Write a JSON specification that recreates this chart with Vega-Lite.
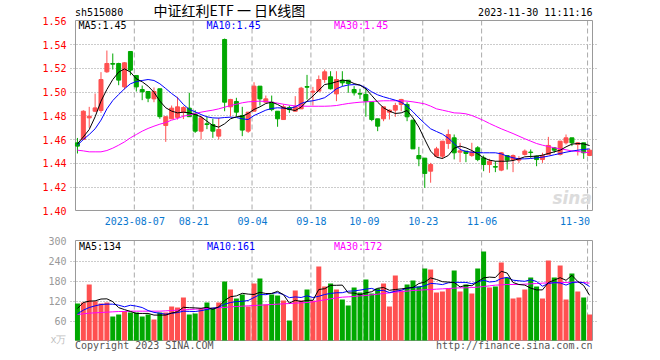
{
"$schema": "https://vega.github.io/schema/vega-lite/v6.json",
"width": 528,
"height": 321,
"autosize": {"type": "none"},
"padding": {"left": 70, "top": 20, "right": 62, "bottom": 19},
"background": "#ffffff",
"config": {"view": {"stroke": null}, "text": {"font": "DejaVu Sans Mono", "fontSize": 10}},
"datasets": {"k": [
{"i":0,"d":"2023-07-24","o":1.4570,"h":1.4611,"l":1.4480,"c":1.4542,"v":111,"m5":1.4561,"m10":1.4550,"m30":1.4508,"vm5":96,"vm10":80,"vm30":78},
{"i":1,"d":"2023-07-25","o":1.4598,"h":1.4844,"l":1.4593,"c":1.4836,"v":114,"m5":1.4620,"m10":1.4598,"m30":1.4502,"vm5":114,"vm10":91,"vm30":80},
{"i":2,"d":"2023-07-26","o":1.4780,"h":1.4873,"l":1.4696,"c":1.4794,"v":168,"m5":1.4682,"m10":1.4640,"m30":1.4494,"vm5":118,"vm10":99,"vm30":82},
{"i":3,"d":"2023-07-27","o":1.4836,"h":1.4985,"l":1.4828,"c":1.4864,"v":118,"m5":1.4789,"m10":1.4688,"m30":1.4494,"vm5":119,"vm10":104,"vm30":83},
{"i":4,"d":"2023-07-28","o":1.4842,"h":1.5165,"l":1.4822,"c":1.5103,"v":111,"m5":1.4921,"m10":1.4761,"m30":1.4494,"vm5":124.4,"vm10":108,"vm30":84},
{"i":5,"d":"2023-07-31","o":1.5168,"h":1.5347,"l":1.5159,"c":1.5238,"v":114,"m5":1.5019,"m10":1.4856,"m30":1.4505,"vm5":125,"vm10":109,"vm30":85},
{"i":6,"d":"2023-08-01","o":1.5238,"h":1.5322,"l":1.5187,"c":1.5232,"v":72,"m5":1.5103,"m10":1.4926,"m30":1.4525,"vm5":116.6,"vm10":109,"vm30":86},
{"i":7,"d":"2023-08-02","o":1.5238,"h":1.5244,"l":1.5055,"c":1.5098,"v":78,"m5":1.5165,"m10":1.4977,"m30":1.4550,"vm5":98.6,"vm10":106,"vm30":87},
{"i":8,"d":"2023-08-03","o":1.5041,"h":1.5249,"l":1.5019,"c":1.5244,"v":88,"m5":1.5193,"m10":1.5025,"m30":1.4578,"vm5":92.6,"vm10":101,"vm30":87},
{"i":9,"d":"2023-08-04","o":1.5339,"h":1.5340,"l":1.5139,"c":1.5182,"v":84,"m5":1.5165,"m10":1.5067,"m30":1.4612,"vm5":87.2,"vm10":105.8,"vm30":88},
{"i":10,"d":"2023-08-07","o":1.5137,"h":1.5137,"l":1.5002,"c":1.5041,"v":84,"m5":1.5109,"m10":1.5086,"m30":1.4640,"vm5":81.2,"vm10":103.1,"vm30":88},
{"i":11,"d":"2023-08-08","o":1.5019,"h":1.5052,"l":1.4929,"c":1.4999,"v":72,"m5":1.5084,"m10":1.5095,"m30":1.4668,"vm5":81.2,"vm10":98.9,"vm30":88},
{"i":12,"d":"2023-08-09","o":1.5002,"h":1.5002,"l":1.4912,"c":1.4946,"v":78,"m5":1.5047,"m10":1.5103,"m30":1.4691,"vm5":81.2,"vm10":89.9,"vm30":88},
{"i":13,"d":"2023-08-10","o":1.4940,"h":1.5036,"l":1.4912,"c":1.5002,"v":63,"m5":1.4996,"m10":1.5095,"m30":1.4710,"vm5":76.2,"vm10":84.4,"vm30":88},
{"i":14,"d":"2023-08-11","o":1.5025,"h":1.5025,"l":1.4772,"c":1.4790,"v":84,"m5":1.4921,"m10":1.5067,"m30":1.4727,"vm5":76.2,"vm10":81.7,"vm30":88},
{"i":15,"d":"2023-08-14","o":1.4716,"h":1.4790,"l":1.4578,"c":1.4790,"v":84,"m5":1.4865,"m10":1.5027,"m30":1.4741,"vm5":76.2,"vm10":78.7,"vm30":89},
{"i":16,"d":"2023-08-15","o":1.4772,"h":1.4884,"l":1.4772,"c":1.4862,"v":102,"m5":1.4837,"m10":1.4985,"m30":1.4761,"vm5":82.2,"vm10":81.7,"vm30":90},
{"i":17,"d":"2023-08-16","o":1.4784,"h":1.4957,"l":1.4766,"c":1.4873,"v":99,"m5":1.4822,"m10":1.4949,"m30":1.4775,"vm5":86.4,"vm10":83.8,"vm30":91},
{"i":18,"d":"2023-08-17","o":1.4828,"h":1.4878,"l":1.4770,"c":1.4867,"v":129,"m5":1.4828,"m10":1.4893,"m30":1.4794,"vm5":99.6,"vm10":87.9,"vm30":92},
{"i":19,"d":"2023-08-18","o":1.4862,"h":1.4991,"l":1.4790,"c":1.4790,"v":78,"m5":1.4822,"m10":1.4851,"m30":1.4803,"vm5":98.4,"vm10":87.3,"vm30":93},
{"i":20,"d":"2023-08-21","o":1.4811,"h":1.4845,"l":1.4654,"c":1.4668,"v":81,"m5":1.4808,"m10":1.4831,"m30":1.4817,"vm5":97.8,"vm10":87,"vm30":94},
{"i":21,"d":"2023-08-22","o":1.4668,"h":1.4797,"l":1.4598,"c":1.4780,"v":96,"m5":1.4789,"m10":1.4808,"m30":1.4828,"vm5":96.6,"vm10":89.4,"vm30":95},
{"i":22,"d":"2023-08-23","o":1.4730,"h":1.4790,"l":1.4685,"c":1.4724,"v":114,"m5":1.4752,"m10":1.4789,"m30":1.4837,"vm5":99.6,"vm10":93,"vm30":96},
{"i":23,"d":"2023-08-24","o":1.4724,"h":1.4772,"l":1.4612,"c":1.4668,"v":99,"m5":1.4716,"m10":1.4780,"m30":1.4845,"vm5":93.6,"vm10":96.6,"vm30":97},
{"i":24,"d":"2023-08-25","o":1.4626,"h":1.4780,"l":1.4598,"c":1.4682,"v":114,"m5":1.4702,"m10":1.4778,"m30":1.4856,"vm5":100.8,"vm10":99.6,"vm30":98},
{"i":25,"d":"2023-08-28","o":1.5440,"h":1.5448,"l":1.4836,"c":1.4912,"v":177,"m5":1.4730,"m10":1.4783,"m30":1.4870,"vm5":120,"vm10":108.9,"vm30":99},
{"i":26,"d":"2023-08-29","o":1.4873,"h":1.4940,"l":1.4790,"c":1.4935,"v":153,"m5":1.4772,"m10":1.4786,"m30":1.4884,"vm5":131.4,"vm10":114,"vm30":101},
{"i":27,"d":"2023-08-30","o":1.4918,"h":1.4949,"l":1.4790,"c":1.4828,"v":126,"m5":1.4789,"m10":1.4783,"m30":1.4895,"vm5":133.8,"vm10":116.7,"vm30":102},
{"i":28,"d":"2023-08-31","o":1.4800,"h":1.4873,"l":1.4626,"c":1.4677,"v":138,"m5":1.4794,"m10":1.4772,"m30":1.4907,"vm5":141.6,"vm10":117.6,"vm30":103},
{"i":29,"d":"2023-09-01","o":1.4668,"h":1.4828,"l":1.4654,"c":1.4828,"v":102,"m5":1.4817,"m10":1.4766,"m30":1.4915,"vm5":139.2,"vm10":120,"vm30":104},
{"i":30,"d":"2023-09-04","o":1.4836,"h":1.5080,"l":1.4836,"c":1.5047,"v":171,"m5":1.4851,"m10":1.4800,"m30":1.4918,"vm5":138,"vm10":129,"vm30":105},
{"i":31,"d":"2023-09-05","o":1.5047,"h":1.5047,"l":1.4884,"c":1.4940,"v":186,"m5":1.4873,"m10":1.4822,"m30":1.4921,"vm5":144.6,"vm10":138,"vm30":106},
{"i":32,"d":"2023-09-06","o":1.4912,"h":1.4968,"l":1.4912,"c":1.4940,"v":108,"m5":1.4901,"m10":1.4845,"m30":1.4918,"vm5":141,"vm10":137.4,"vm30":107},
{"i":33,"d":"2023-09-07","o":1.4912,"h":1.4968,"l":1.4836,"c":1.4850,"v":138,"m5":1.4912,"m10":1.4859,"m30":1.4912,"vm5":141,"vm10":141.3,"vm30":108},
{"i":34,"d":"2023-09-08","o":1.4836,"h":1.4836,"l":1.4705,"c":1.4772,"v":135,"m5":1.4893,"m10":1.4865,"m30":1.4904,"vm5":147.6,"vm10":143.4,"vm30":109},
{"i":35,"d":"2023-09-11","o":1.4766,"h":1.4893,"l":1.4766,"c":1.4873,"v":120,"m5":1.4865,"m10":1.4862,"m30":1.4895,"vm5":137.4,"vm10":137.7,"vm30":110},
{"i":36,"d":"2023-09-12","o":1.4867,"h":1.4884,"l":1.4822,"c":1.4850,"v":60,"m5":1.4851,"m10":1.4859,"m30":1.4887,"vm5":112.2,"vm10":128.4,"vm30":111},
{"i":37,"d":"2023-09-13","o":1.4836,"h":1.4963,"l":1.4836,"c":1.4873,"v":150,"m5":1.4842,"m10":1.4873,"m30":1.4881,"vm5":120.6,"vm10":130.8,"vm30":112},
{"i":38,"d":"2023-09-14","o":1.4856,"h":1.5041,"l":1.4856,"c":1.5030,"v":120,"m5":1.4870,"m10":1.4901,"m30":1.4879,"vm5":117,"vm10":129,"vm30":113},
{"i":39,"d":"2023-09-15","o":1.5044,"h":1.5142,"l":1.4935,"c":1.5038,"v":153,"m5":1.4921,"m10":1.4918,"m30":1.4878,"vm5":120.6,"vm10":134.1,"vm30":114},
{"i":40,"d":"2023-09-18","o":1.4996,"h":1.5041,"l":1.4884,"c":1.5005,"v":120,"m5":1.4963,"m10":1.4924,"m30":1.4878,"vm5":120.6,"vm10":129,"vm30":116},
{"i":41,"d":"2023-09-19","o":1.5005,"h":1.5137,"l":1.5005,"c":1.5103,"v":222,"m5":1.5013,"m10":1.4935,"m30":1.4878,"vm5":153,"vm10":132.6,"vm30":119},
{"i":42,"d":"2023-09-20","o":1.5103,"h":1.5187,"l":1.5075,"c":1.5168,"v":162,"m5":1.5061,"m10":1.4950,"m30":1.4878,"vm5":155.4,"vm10":138,"vm30":122},
{"i":43,"d":"2023-09-21","o":1.5126,"h":1.5173,"l":1.5019,"c":1.5025,"v":171,"m5":1.5069,"m10":1.4985,"m30":1.4880,"vm5":165.6,"vm10":141.3,"vm30":125},
{"i":44,"d":"2023-09-22","o":1.4982,"h":1.5173,"l":1.4921,"c":1.5103,"v":153,"m5":1.5084,"m10":1.5025,"m30":1.4884,"vm5":165.6,"vm10":143.1,"vm30":128},
{"i":45,"d":"2023-09-25","o":1.5097,"h":1.5173,"l":1.5047,"c":1.5075,"v":123,"m5":1.5098,"m10":1.5045,"m30":1.4893,"vm5":166.2,"vm10":143.4,"vm30":130},
{"i":46,"d":"2023-09-26","o":1.5097,"h":1.5097,"l":1.4991,"c":1.5069,"v":105,"m5":1.5092,"m10":1.5057,"m30":1.4901,"vm5":142.8,"vm10":147.9,"vm30":131},
{"i":47,"d":"2023-09-27","o":1.5019,"h":1.5047,"l":1.4968,"c":1.4991,"v":159,"m5":1.5069,"m10":1.5060,"m30":1.4907,"vm5":142.2,"vm10":148.8,"vm30":132},
{"i":48,"d":"2023-09-28","o":1.4985,"h":1.5025,"l":1.4940,"c":1.4980,"v":144,"m5":1.5055,"m10":1.5057,"m30":1.4912,"vm5":136.8,"vm10":151.2,"vm30":134},
{"i":49,"d":"2023-10-09","o":1.4977,"h":1.5033,"l":1.4790,"c":1.4921,"v":183,"m5":1.5025,"m10":1.5033,"m30":1.4915,"vm5":142.8,"vm10":154.2,"vm30":135},
{"i":50,"d":"2023-10-10","o":1.4912,"h":1.4912,"l":1.4752,"c":1.4766,"v":141,"m5":1.4968,"m10":1.4999,"m30":1.4918,"vm5":146.4,"vm10":156.3,"vm30":137},
{"i":51,"d":"2023-10-11","o":1.4772,"h":1.4772,"l":1.4668,"c":1.4710,"v":156,"m5":1.4912,"m10":1.4974,"m30":1.4921,"vm5":156.6,"vm10":149.7,"vm30":139},
{"i":52,"d":"2023-10-12","o":1.4772,"h":1.4873,"l":1.4752,"c":1.4873,"v":171,"m5":1.4865,"m10":1.4957,"m30":1.4924,"vm5":159,"vm10":150.6,"vm30":141},
{"i":53,"d":"2023-10-13","o":1.4828,"h":1.4851,"l":1.4766,"c":1.4845,"v":102,"m5":1.4837,"m10":1.4943,"m30":1.4924,"vm5":150.6,"vm10":143.7,"vm30":143},
{"i":54,"d":"2023-10-16","o":1.4845,"h":1.4907,"l":1.4789,"c":1.4884,"v":195,"m5":1.4817,"m10":1.4929,"m30":1.4924,"vm5":153,"vm10":147.9,"vm30":145},
{"i":55,"d":"2023-10-17","o":1.4893,"h":1.4940,"l":1.4836,"c":1.4935,"v":150,"m5":1.4822,"m10":1.4912,"m30":1.4924,"vm5":154.8,"vm10":150.6,"vm30":147},
{"i":56,"d":"2023-10-18","o":1.4893,"h":1.4912,"l":1.4752,"c":1.4789,"v":168,"m5":1.4842,"m10":1.4879,"m30":1.4921,"vm5":157.2,"vm10":156.9,"vm30":148},
{"i":57,"d":"2023-10-19","o":1.4761,"h":1.4761,"l":1.4519,"c":1.4519,"v":180,"m5":1.4780,"m10":1.4831,"m30":1.4915,"vm5":159,"vm10":159,"vm30":150},
{"i":58,"d":"2023-10-20","o":1.4463,"h":1.4536,"l":1.4373,"c":1.4435,"v":162,"m5":1.4702,"m10":1.4780,"m30":1.4907,"vm5":171,"vm10":160.8,"vm30":151},
{"i":59,"d":"2023-10-23","o":1.4441,"h":1.4441,"l":1.4191,"c":1.4312,"v":216,"m5":1.4598,"m10":1.4733,"m30":1.4898,"vm5":175.2,"vm10":164.1,"vm30":152},
{"i":60,"d":"2023-10-24","o":1.4331,"h":1.4401,"l":1.4234,"c":1.4387,"v":213,"m5":1.4500,"m10":1.4688,"m30":1.4879,"vm5":187.8,"vm10":171.3,"vm30":153},
{"i":61,"d":"2023-10-25","o":1.4457,"h":1.4536,"l":1.4452,"c":1.4519,"v":144,"m5":1.4449,"m10":1.4665,"m30":1.4856,"vm5":183,"vm10":170.1,"vm30":154},
{"i":62,"d":"2023-10-26","o":1.4457,"h":1.4584,"l":1.4435,"c":1.4584,"v":147,"m5":1.4438,"m10":1.4643,"m30":1.4845,"vm5":176.4,"vm10":167.7,"vm30":155},
{"i":63,"d":"2023-10-27","o":1.4564,"h":1.4682,"l":1.4519,"c":1.4640,"v":156,"m5":1.4463,"m10":1.4609,"m30":1.4834,"vm5":175.2,"vm10":173.1,"vm30":156},
{"i":64,"d":"2023-10-30","o":1.4612,"h":1.4640,"l":1.4430,"c":1.4486,"v":210,"m5":1.4525,"m10":1.4564,"m30":1.4822,"vm5":174,"vm10":174.6,"vm30":157},
{"i":65,"d":"2023-10-31","o":1.4491,"h":1.4570,"l":1.4407,"c":1.4502,"v":147,"m5":1.4542,"m10":1.4514,"m30":1.4820,"vm5":160.8,"vm10":174.3,"vm30":158},
{"i":66,"d":"2023-11-01","o":1.4500,"h":1.4500,"l":1.4407,"c":1.4480,"v":168,"m5":1.4528,"m10":1.4497,"m30":1.4814,"vm5":165.6,"vm10":174.3,"vm30":158},
{"i":67,"d":"2023-11-02","o":1.4463,"h":1.4570,"l":1.4452,"c":1.4491,"v":141,"m5":1.4505,"m10":1.4491,"m30":1.4800,"vm5":164.4,"vm10":170.4,"vm30":159},
{"i":68,"d":"2023-11-03","o":1.4528,"h":1.4542,"l":1.4415,"c":1.4429,"v":216,"m5":1.4477,"m10":1.4488,"m30":1.4780,"vm5":176.4,"vm10":175.8,"vm30":160},
{"i":69,"d":"2023-11-06","o":1.4443,"h":1.4463,"l":1.4331,"c":1.4387,"v":267,"m5":1.4444,"m10":1.4486,"m30":1.4758,"vm5":187.8,"vm10":180.9,"vm30":162},
{"i":70,"d":"2023-11-07","o":1.4387,"h":1.4435,"l":1.4317,"c":1.4415,"v":159,"m5":1.4424,"m10":1.4486,"m30":1.4733,"vm5":190.2,"vm10":175.5,"vm30":164},
{"i":71,"d":"2023-11-08","o":1.4370,"h":1.4415,"l":1.4323,"c":1.4365,"v":162,"m5":1.4415,"m10":1.4486,"m30":1.4710,"vm5":189,"vm10":177.3,"vm30":166},
{"i":72,"d":"2023-11-09","o":1.4340,"h":1.4491,"l":1.4331,"c":1.4486,"v":234,"m5":1.4415,"m10":1.4477,"m30":1.4688,"vm5":207.6,"vm10":186,"vm30":167},
{"i":73,"d":"2023-11-10","o":1.4463,"h":1.4463,"l":1.4345,"c":1.4424,"v":189,"m5":1.4415,"m10":1.4458,"m30":1.4668,"vm5":202.2,"vm10":189.3,"vm30":168},
{"i":74,"d":"2023-11-13","o":1.4429,"h":1.4472,"l":1.4323,"c":1.4463,"v":126,"m5":1.4421,"m10":1.4444,"m30":1.4648,"vm5":174,"vm10":180.9,"vm30":168},
{"i":75,"d":"2023-11-14","o":1.4424,"h":1.4458,"l":1.4401,"c":1.4435,"v":129,"m5":1.4435,"m10":1.4435,"m30":1.4626,"vm5":168,"vm10":179.1,"vm30":168},
{"i":76,"d":"2023-11-15","o":1.4472,"h":1.4514,"l":1.4463,"c":1.4500,"v":153,"m5":1.4452,"m10":1.4435,"m30":1.4604,"vm5":166.2,"vm10":177.6,"vm30":169},
{"i":77,"d":"2023-11-16","o":1.4492,"h":1.4514,"l":1.4443,"c":1.4488,"v":189,"m5":1.4455,"m10":1.4438,"m30":1.4584,"vm5":157.2,"vm10":182.4,"vm30":170},
{"i":78,"d":"2023-11-17","o":1.4458,"h":1.4463,"l":1.4373,"c":1.4429,"v":162,"m5":1.4458,"m10":1.4444,"m30":1.4564,"vm5":151.8,"vm10":177,"vm30":171},
{"i":79,"d":"2023-11-20","o":1.4429,"h":1.4486,"l":1.4401,"c":1.4463,"v":126,"m5":1.4466,"m10":1.4449,"m30":1.4550,"vm5":151.8,"vm10":162.9,"vm30":172},
{"i":80,"d":"2023-11-21","o":1.4472,"h":1.4620,"l":1.4472,"c":1.4548,"v":240,"m5":1.4480,"m10":1.4458,"m30":1.4539,"vm5":174,"vm10":171,"vm30":173},
{"i":81,"d":"2023-11-22","o":1.4528,"h":1.4534,"l":1.4486,"c":1.4508,"v":189,"m5":1.4494,"m10":1.4469,"m30":1.4528,"vm5":181.2,"vm10":173.7,"vm30":173},
{"i":82,"d":"2023-11-23","o":1.4472,"h":1.4584,"l":1.4463,"c":1.4584,"v":225,"m5":1.4508,"m10":1.4480,"m30":1.4519,"vm5":188.4,"vm10":172.8,"vm30":174},
{"i":83,"d":"2023-11-24","o":1.4570,"h":1.4640,"l":1.4556,"c":1.4612,"v":123,"m5":1.4536,"m10":1.4491,"m30":1.4511,"vm5":180.6,"vm10":166.2,"vm30":174},
{"i":84,"d":"2023-11-27","o":1.4612,"h":1.4612,"l":1.4542,"c":1.4570,"v":201,"m5":1.4559,"m10":1.4500,"m30":1.4502,"vm5":195.6,"vm10":173.7,"vm30":175},
{"i":85,"d":"2023-11-28","o":1.4556,"h":1.4575,"l":1.4463,"c":1.4570,"v":147,"m5":1.4564,"m10":1.4508,"m30":1.4497,"vm5":177,"vm10":175.5,"vm30":175},
{"i":86,"d":"2023-11-29","o":1.4570,"h":1.4570,"l":1.4435,"c":1.4486,"v":129,"m5":1.4561,"m10":1.4514,"m30":1.4491,"vm5":165,"vm10":173.1,"vm30":174},
{"i":87,"d":"2023-11-30","o":1.4463,"h":1.4519,"l":1.4458,"c":1.4508,"v":78,"m5":1.4547,"m10":1.4519,"m30":1.4486,"vm5":135.6,"vm10":162,"vm30":172}
]},
"data": {"name": "k"},
"encoding": {
  "x": {"field": "i", "type": "quantitative", "title": null,
    "scale": {"domain": [-0.4166667, 87.5833333], "nice": false, "zero": false},
    "axis": {"orient": "bottom", "offset": -130.5, "values": [10, 20, 30, 40, 49, 59, 69, 87],
      "labelExpr": "datum.value == 10 ? '2023-08-07' : datum.value == 20 ? '08-21' : datum.value == 30 ? '09-04' : datum.value == 40 ? '09-18' : datum.value == 49 ? '10-09' : datum.value == 59 ? '10-23' : datum.value == 69 ? '11-06' : '11-30'",
      "grid": false, "domain": false, "ticks": false, "tickSize": 0, "labelPadding": 6,
      "labelOffset": {"condition": {"test": "datum.value == 87", "value": 0}, "value": -2},
      "labelAlign": {"condition": {"test": "datum.value == 87", "value": "right"}, "value": "center"},
      "labelColor": "#0a78d0", "labelFont": "DejaVu Sans Mono", "labelFontSize": 10,
      "labelFlush": false, "labelOverlap": false, "title": null}
  }
},
"layer": [
  {
    "layer": [
      {"transform": [{"filter": {"field": "d", "oneOf": ["2023-08-07","2023-08-21","2023-09-04","2023-09-18","2023-10-09","2023-10-23","2023-11-06","2023-11-30"]}}],
       "mark": {"type": "rule", "xOffset": -2, "stroke": "#aaaaaa", "strokeWidth": 1, "strokeDash": [5, 3]},
       "encoding": {"y": {"datum": 1.56, "type": "quantitative", "title": null, "scale": {"domain": [1.290105, 1.560421], "nice": false, "zero": false}}, "y2": {"datum": 1.40}}},
      {"transform": [{"filter": "datum.i == 0"}],
       "mark": {"type": "rect", "filled": false, "stroke": "#999999", "strokeWidth": 1},
       "encoding": {"x": {"datum": -0.3333333, "type": "quantitative"}, "x2": {"datum": 87.5},
         "y": {"datum": 1.56, "type": "quantitative", "title": null}, "y2": {"datum": 1.40}}},
      {"mark": {"type": "rule", "strokeWidth": 1},
       "encoding": {
         "y": {"field": "l", "type": "quantitative", "title": null,
           "scale": {"domain": [1.290105, 1.560421], "nice": false, "zero": false},
           "axis": {"orient": "left", "values": [1.4, 1.42, 1.44, 1.46, 1.48, 1.5, 1.52, 1.54, 1.56], "format": ".2f", "title": null,
             "domain": false, "ticks": false, "tickSize": 0, "labelPadding": 4, "labelOffset": 1,
             "labelColor": "#ff0000", "labelFont": "DejaVu Sans Mono", "labelFontSize": 10, "labelFlush": false, "labelOverlap": false,
             "grid": true, "gridColor": "#999999", "gridDash": [1, 2],
             "gridOpacity": {"condition": {"test": "datum.value > 1.555 || datum.value < 1.405", "value": 0}, "value": 1}}},
         "y2": {"field": "h"},
         "color": {"condition": {"test": "datum.c >= datum.o", "value": "#ff5050"}, "value": "#00a800"}}},
      {"mark": {"type": "bar", "width": 4, "strokeWidth": 1, "orient": "vertical"},
       "encoding": {
         "y": {"field": "o", "type": "quantitative", "title": null, "scale": {"domain": [1.290105, 1.560421], "nice": false, "zero": false}},
         "y2": {"field": "c"},
         "fill": {"condition": {"test": "datum.c >= datum.o", "value": "#ff5050"}, "value": "#00a800"},
         "stroke": {"condition": {"test": "datum.c >= datum.o", "value": "#ff5050"}, "value": "#00a800"}}},
      {"mark": {"type": "line", "stroke": "#ff00ff", "strokeWidth": 1},
       "encoding": {"y": {"field": "m30", "type": "quantitative", "title": null, "scale": {"domain": [1.290105, 1.560421], "nice": false, "zero": false}}}},
      {"mark": {"type": "line", "stroke": "#0000ff", "strokeWidth": 1},
       "encoding": {"y": {"field": "m10", "type": "quantitative", "title": null, "scale": {"domain": [1.290105, 1.560421], "nice": false, "zero": false}}}},
      {"mark": {"type": "line", "stroke": "#000000", "strokeWidth": 1},
       "encoding": {"y": {"field": "m5", "type": "quantitative", "title": null, "scale": {"domain": [1.290105, 1.560421], "nice": false, "zero": false}}}},
      {"transform": [{"filter": "datum.i == 0"}],
       "mark": {"type": "text", "text": "MA5:1.45", "align": "left", "baseline": "alphabetic", "color": "#000000", "font": "DejaVu Sans Mono", "fontSize": 10},
       "encoding": {"x": {"datum": 0.1667, "type": "quantitative"}, "y": {"datum": 1.55259, "type": "quantitative", "title": null}}},
      {"transform": [{"filter": "datum.i == 0"}],
       "mark": {"type": "text", "text": "MA10:1.45", "align": "left", "baseline": "alphabetic", "color": "#0000ff", "font": "DejaVu Sans Mono", "fontSize": 10},
       "encoding": {"x": {"datum": 21.9167, "type": "quantitative"}, "y": {"datum": 1.55259, "type": "quantitative", "title": null}}},
      {"transform": [{"filter": "datum.i == 0"}],
       "mark": {"type": "text", "text": "MA30:1.45", "align": "left", "baseline": "alphabetic", "color": "#ff00ff", "font": "DejaVu Sans Mono", "fontSize": 10},
       "encoding": {"x": {"datum": 43.5833, "type": "quantitative"}, "y": {"datum": 1.55259, "type": "quantitative", "title": null}}},
      {"transform": [{"filter": "datum.i == 0"}],
       "mark": {"type": "text", "text": "sh515080", "align": "left", "baseline": "alphabetic", "color": "#000000", "font": "DejaVu Sans Mono", "fontSize": 10},
       "encoding": {"x": {"datum": -0.4167, "type": "quantitative"}, "y": {"datum": 1.56337, "type": "quantitative", "title": null}}},
      {"transform": [{"filter": "datum.i == 0"}],
       "mark": {"type": "text", "text": "中证红利ETF 一 日K线图", "align": "left", "baseline": "alphabetic", "color": "#000000", "font": "Noto Sans CJK SC", "fontSize": 14},
       "encoding": {"x": {"datum": 12.9167, "type": "quantitative"}, "y": {"datum": 1.56337, "type": "quantitative", "title": null}}},
      {"transform": [{"filter": "datum.i == 0"}],
       "mark": {"type": "text", "text": "2023-11-30 11:11:16", "align": "right", "baseline": "alphabetic", "color": "#000000", "font": "DejaVu Sans Mono", "fontSize": 10},
       "encoding": {"x": {"datum": 87.5, "type": "quantitative"}, "y": {"datum": 1.56337, "type": "quantitative", "title": null}}},
      {"transform": [{"filter": "datum.i == 0"}],
       "mark": {"type": "text", "text": "sina", "align": "right", "baseline": "alphabetic", "color": "#dcdcdc", "font": "DejaVu Sans", "fontSize": 17, "fontWeight": "bold", "fontStyle": "italic"},
       "encoding": {"x": {"datum": 87.4, "type": "quantitative"}, "y": {"datum": 1.4055, "type": "quantitative", "title": null}}}
    ]
  },
  {
    "layer": [
      {"transform": [{"filter": {"field": "d", "oneOf": ["2023-08-07","2023-08-21","2023-09-04","2023-09-18","2023-10-09","2023-10-23","2023-11-06","2023-11-30"]}}],
       "mark": {"type": "rule", "xOffset": -2, "stroke": "#aaaaaa", "strokeWidth": 1, "strokeDash": [5, 3]},
       "encoding": {"y": {"datum": 300, "type": "quantitative", "title": null, "scale": {"domain": [-1.5, 961.5], "nice": false, "zero": false}}, "y2": {"datum": 0}}},
      {"transform": [{"filter": "datum.i == 0"}],
       "mark": {"type": "rect", "filled": false, "stroke": "#999999", "strokeWidth": 1},
       "encoding": {"x": {"datum": -0.3333333, "type": "quantitative"}, "x2": {"datum": 87.5},
         "y": {"datum": 300, "type": "quantitative", "title": null}, "y2": {"datum": 0}}},
      {"mark": {"type": "bar", "width": 5, "orient": "vertical"},
       "encoding": {
         "y": {"field": "v", "type": "quantitative", "title": null,
           "scale": {"domain": [-1.5, 961.5], "nice": false, "zero": false},
           "axis": {"orient": "left", "values": [0, 60, 120, 180, 240, 300], "title": null,
             "labelExpr": "datum.value == 0 ? 'x万' : datum.label",
             "domain": false, "ticks": false, "tickSize": 0, "labelPadding": 4,
             "labelOffset": {"condition": {"test": "datum.value == 0", "value": -1}, "value": 1},
             "labelColor": {"condition": {"test": "datum.value == 0", "value": "#c0c0c0"}, "value": "#999999"},
             "labelFont": "DejaVu Sans Mono", "labelFontSize": 10, "labelFlush": false, "labelOverlap": false,
             "grid": true, "gridColor": "#999999", "gridDash": [1, 2],
             "gridOpacity": {"condition": {"test": "datum.value == 0 || datum.value == 300", "value": 0}, "value": 1}}},
         "y2": {"datum": 0},
         "color": {"condition": {"test": "datum.c >= datum.o", "value": "#ff5050"}, "value": "#00a800"}}},
      {"mark": {"type": "line", "stroke": "#ff00ff", "strokeWidth": 1},
       "encoding": {"y": {"field": "vm30", "type": "quantitative", "title": null, "scale": {"domain": [-1.5, 961.5], "nice": false, "zero": false}}}},
      {"mark": {"type": "line", "stroke": "#0000ff", "strokeWidth": 1},
       "encoding": {"y": {"field": "vm10", "type": "quantitative", "title": null, "scale": {"domain": [-1.5, 961.5], "nice": false, "zero": false}}}},
      {"mark": {"type": "line", "stroke": "#000000", "strokeWidth": 1},
       "encoding": {"y": {"field": "vm5", "type": "quantitative", "title": null, "scale": {"domain": [-1.5, 961.5], "nice": false, "zero": false}}}},
      {"transform": [{"filter": "datum.i == 0"}],
       "mark": {"type": "text", "text": "MA5:134", "align": "left", "baseline": "alphabetic", "color": "#000000", "font": "DejaVu Sans Mono", "fontSize": 10},
       "encoding": {"x": {"datum": 0.25, "type": "quantitative"}, "y": {"datum": 271.5, "type": "quantitative", "title": null}}},
      {"transform": [{"filter": "datum.i == 0"}],
       "mark": {"type": "text", "text": "MA10:161", "align": "left", "baseline": "alphabetic", "color": "#0000ff", "font": "DejaVu Sans Mono", "fontSize": 10},
       "encoding": {"x": {"datum": 22.0, "type": "quantitative"}, "y": {"datum": 271.5, "type": "quantitative", "title": null}}},
      {"transform": [{"filter": "datum.i == 0"}],
       "mark": {"type": "text", "text": "MA30:172", "align": "left", "baseline": "alphabetic", "color": "#ff00ff", "font": "DejaVu Sans Mono", "fontSize": 10},
       "encoding": {"x": {"datum": 43.5833, "type": "quantitative"}, "y": {"datum": 271.5, "type": "quantitative", "title": null}}},
      {"transform": [{"filter": "datum.i == 0"}],
       "mark": {"type": "text", "text": "Copyright 2023 SINA.COM", "align": "left", "baseline": "alphabetic", "color": "#555555", "font": "DejaVu Sans Mono", "fontSize": 10},
       "encoding": {"x": {"datum": -0.4167, "type": "quantitative"}, "y": {"datum": -25.5, "type": "quantitative", "title": null}}},
      {"transform": [{"filter": "datum.i == 0"}],
       "mark": {"type": "text", "text": "http://finance.sina.com.cn", "align": "right", "baseline": "alphabetic", "color": "#555555", "font": "DejaVu Sans Mono", "fontSize": 10},
       "encoding": {"x": {"datum": 87.5, "type": "quantitative"}, "y": {"datum": -25.5, "type": "quantitative", "title": null}}}
    ]
  }
],
"resolve": {"scale": {"y": "independent"}}
}
